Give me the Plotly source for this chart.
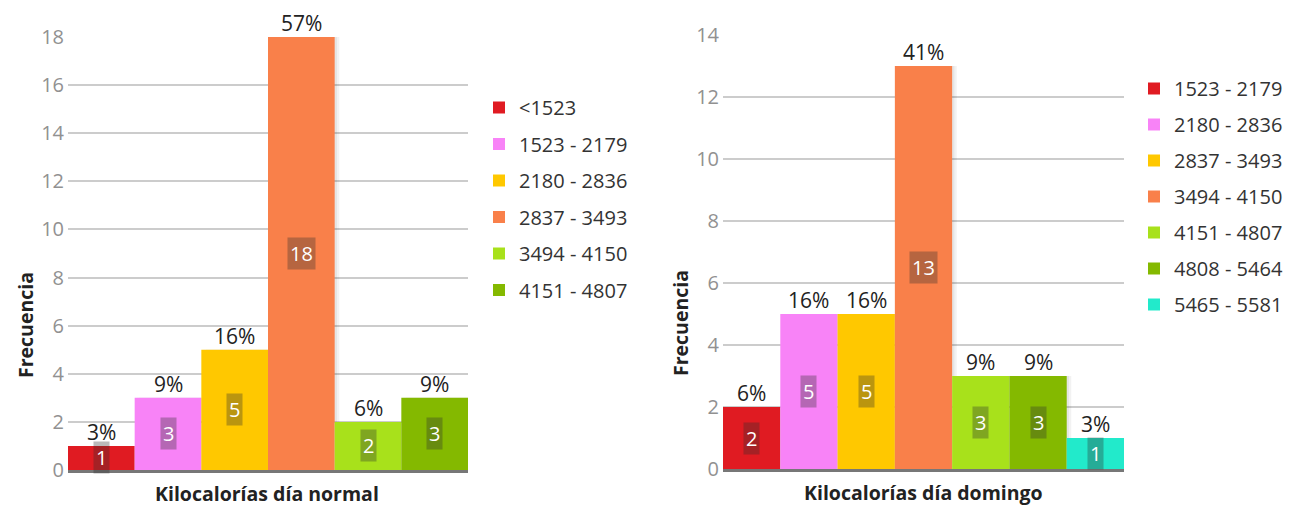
import plotly.graph_objects as go

W, H = 1291, 506

# Frequency tables (kcal ranges) for a normal day and for Sunday
normal_bins = ["<1523", "1523 - 2179", "2180 - 2836", "2837 - 3493", "3494 - 4150", "4151 - 4807"]
normal_counts = [1, 3, 5, 18, 2, 3]
normal_pct = [3, 9, 16, 57, 6, 9]

domingo_bins = ["1523 - 2179", "2180 - 2836", "2837 - 3493", "3494 - 4150",
                "4151 - 4807", "4808 - 5464", "5465 - 5581"]
domingo_counts = [2, 5, 5, 13, 3, 3, 1]
domingo_pct = [6, 16, 16, 41, 9, 9, 3]

palette = ["#E01B22", "#F883F7", "#FFC800", "#F9804A", "#A8E11B", "#84B900", "#22EACB"]

FONT = "Open Sans, Noto Sans, DejaVu Sans, sans-serif"


def px_x(p):
    return p / W


def px_y(p):
    return 1 - p / H


fig = go.Figure()
annotations = []


def add_histogram(bins, counts, pcts, xref, yref, legend_name, group_prefix, shadow_dx):
    # soft drop shadow behind the bars
    for k, a in ((1.0, 0.05), (0.5, 0.05)):
        fig.add_trace(go.Bar(
            x=list(range(len(counts))), y=counts, width=1, offset=-0.5 + shadow_dx * k,
            marker=dict(color=f"rgba(0,0,0,{a})", line=dict(width=0)),
            xaxis=xref, yaxis=yref, showlegend=False, hoverinfo="skip",
        ))
    for i, (b, c, p) in enumerate(zip(bins, counts, pcts)):
        fig.add_trace(go.Bar(
            x=[i], y=[c], width=1, name=b,
            marker=dict(color=palette[i], line=dict(width=0)),
            xaxis=xref, yaxis=yref, legend=legend_name,
            legendgroup=f"{group_prefix}{i}",
            hoverinfo="skip", cliponaxis=False,
        ))
        # count inside the bar
        annotations.append(dict(
            x=i, y=c / 2, xref=xref, yref=yref, text=str(c), showarrow=False,
            font=dict(family=FONT, size=20, color="white"),
            bgcolor="rgba(45,45,45,0.33)", borderpad=2,
        ))
        # percentage above the bar
        annotations.append(dict(
            x=i, y=c, xref=xref, yref=yref, text=f"{p}%", showarrow=False,
            yanchor="bottom", yshift=-2,
            font=dict(family=FONT, size=21, color="#222222"),
        ))


add_histogram(normal_bins, normal_counts, normal_pct, "x", "y", "legend", "n", 0.07)
add_histogram(domingo_bins, domingo_counts, domingo_pct, "x2", "y2", "legend2", "d", 0.08)

axis_common_y = dict(
    showgrid=True, gridcolor="#cccccc", gridwidth=1.5, zeroline=False, showline=False,
    dtick=2, ticks="", tickfont=dict(family=FONT, size=20, color="#919191"),
    ticklabelstandoff=3, fixedrange=True, automargin=False,
)
axis_common_x = dict(
    showgrid=False, zeroline=False, showticklabels=False, ticks="",
    showline=True, linecolor="#777777", linewidth=3, fixedrange=True, automargin=False,
)

title_font = dict(family=FONT, size=19.5, color="#222222")

# Axis titles
annotations += [
    dict(x=px_x(25), y=px_y(325), xref="paper", yref="paper", text="<b>Frecuencia</b>",
         textangle=-90, showarrow=False, xanchor="center", yanchor="middle", font=title_font),
    dict(x=px_x(680), y=px_y(323), xref="paper", yref="paper", text="<b>Frecuencia</b>",
         textangle=-90, showarrow=False, xanchor="center", yanchor="middle", font=title_font),
    dict(x=px_x(267), y=px_y(493), xref="paper", yref="paper", text="<b>Kilocalorías día normal</b>",
         showarrow=False, xanchor="center", yanchor="middle", font=title_font),
    dict(x=px_x(923), y=px_y(492), xref="paper", yref="paper", text="<b>Kilocalorías día domingo</b>",
         showarrow=False, xanchor="center", yanchor="middle", font=title_font),
]

legend_common = dict(
    font=dict(family=FONT, size=20, color="#333333"),
    bgcolor="rgba(0,0,0,0)", itemclick=False, itemdoubleclick=False,
    xanchor="left", yanchor="top", traceorder="grouped",
)

fig.update_layout(
    width=W, height=H, margin=dict(l=0, r=0, t=0, b=0, autoexpand=False),
    paper_bgcolor="white", plot_bgcolor="white",
    barmode="overlay", showlegend=True,
    xaxis=dict(domain=[px_x(68), px_x(468)], range=[-0.5, len(normal_counts) - 0.5], **axis_common_x),
    yaxis=dict(domain=[px_y(470), px_y(37)], range=[0, 18], anchor="x", **axis_common_y),
    xaxis2=dict(domain=[px_x(723), px_x(1124)], range=[-0.5, len(domingo_counts) - 0.5],
                anchor="y2", **axis_common_x),
    yaxis2=dict(domain=[px_y(469), px_y(35)], range=[0, 14], anchor="x2", **axis_common_y),
    legend=dict(x=px_x(479), y=px_y(88), tracegroupgap=7.5, **legend_common),
    legend2=dict(x=px_x(1134), y=px_y(69), tracegroupgap=7, **legend_common),
    annotations=annotations,
    font=dict(family=FONT),
)

fig.write_html("out.html")
